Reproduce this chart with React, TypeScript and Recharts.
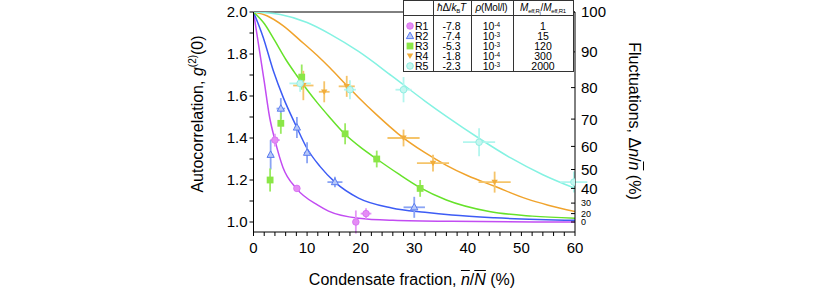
import React from "react";
import {
  ComposedChart,
  Line,
  Scatter,
  ErrorBar,
  XAxis,
  YAxis,
  ReferenceLine,
  Legend,
} from "recharts";

// series labels / table columns
const seriesNames = ["R1", "R2", "R3", "R4", "R5"];
const detuning = ["-7.8", "-7.4", "-5.3", "-1.8", "-2.3"];
const densityExp = ["-4", "-3", "-3", "-4", "-3"];
const massRatio = ["1", "15", "120", "300", "2000"];

const lineColors = ["#c24cf2", "#3d5cf5", "#66e22a", "#f0a32c", "#84f2e2"];
const errColors = ["#e596f6", "#8aa4f4", "#9aea60", "#f5c46a", "#b2f6ee"];

// theory curves
const curveX1 = [0, 1, 2, 3, 4, 5.5, 8, 12, 14, 19.6, 26, 37, 60];
const curveY1 = [2.0, 1.835, 1.67, 1.5, 1.39, 1.26, 1.16, 1.08, 1.052, 1.018, 1.008, 1.003, 1.0];
const curveX2 = [0, 1.8, 3.7, 5.6, 8, 10, 12.4, 15.2, 19.6, 25.8, 32, 37, 45, 60];
const curveY2 = [2.0, 1.88, 1.72, 1.59, 1.455, 1.35, 1.265, 1.19, 1.114, 1.067, 1.046, 1.033, 1.02, 1.008];
const curveX3 = [0, 2, 4, 6, 8, 10, 12, 14, 17, 20, 23, 27, 31, 36, 44, 52, 60];
const curveY3 = [2.0, 1.945, 1.862, 1.775, 1.7, 1.63, 1.565, 1.505, 1.42, 1.355, 1.3, 1.23, 1.165, 1.105, 1.05, 1.028, 1.018];
const curveX4 = [0, 2.5, 5.5, 8.7, 11.8, 14.3, 17.1, 19.6, 23, 27, 32, 36, 40, 45, 51, 55, 60];
const curveY4 = [2.0, 1.982, 1.935, 1.865, 1.795, 1.733, 1.658, 1.593, 1.51, 1.42, 1.33, 1.27, 1.22, 1.17, 1.11, 1.08, 1.05];
const curveX5 = [0, 5, 10, 14.3, 19.6, 25.8, 32, 36, 42, 48, 54, 60];
const curveY5 = [2.0, 1.988, 1.95, 1.895, 1.812, 1.696, 1.576, 1.503, 1.4, 1.305, 1.225, 1.16];

// measured points with x / y errors
const ptsX1 = [4.0, 8.1, 19.1, 21.0];
const ptsY1 = [1.39, 1.16, 1.0, 1.04];
const errX1 = [0.9, 0.5, 0.5, 1.0];
const errY1 = [0.03, 0.015, 0.055, 0.025];

const ptsX2 = [3.2, 5.1, 8.1, 10.0, 15.2, 30.0];
const ptsY2 = [1.32, 1.54, 1.45, 1.33, 1.19, 1.07];
const errX2 = [0.5, 0.8, 0.5, 0.6, 1.4, 2.0];
const errY2 = [0.07, 0.05, 0.05, 0.05, 0.025, 0.05];

const ptsX3 = [3.1, 5.1, 9.0, 17.1, 23.0, 31.1];
const ptsY3 = [1.2, 1.47, 1.69, 1.42, 1.3, 1.16];
const errX3 = [0.5, 0.5, 0.5, 0.5, 0.6, 0.5];
const errY3 = [0.055, 0.05, 0.06, 0.05, 0.04, 0.04];

const ptsX4 = [9.3, 13.2, 17.4, 28.0, 33.5, 45.0];
const ptsY4 = [1.65, 1.62, 1.646, 1.4, 1.28, 1.19];
const errX4 = [1.9, 1.0, 1.5, 3.0, 3.0, 3.0];
const errY4 = [0.07, 0.05, 0.05, 0.04, 0.04, 0.05];

const ptsX5 = [8.7, 18.0, 28.0, 42.1, 59.8];
const ptsY5 = [1.66, 1.63, 1.63, 1.38, 1.19];
const errX5 = [2.0, 1.1, 1.5, 3.0, 2.5];
const errY5 = [0.04, 0.045, 0.06, 0.067, 0.05];

// axis ticks
const xTicks = [0, 2, 4, 6, 8, 10, 12, 14, 16, 18, 20, 22, 24, 26, 28, 30, 32, 34, 36, 38, 40, 42, 44, 46, 48, 50, 52, 54, 56, 58, 60];
const yTicks = [1.0, 1.1, 1.2, 1.3, 1.4, 1.5, 1.6, 1.7, 1.8, 1.9, 2.0];
const fluctTicks = [0, 20, 30, 40, 50, 60, 70, 80, 90, 100];

const zip = (xs: number[], ys: number[]) => xs.map((x, i) => ({ x, y: ys[i] }));
const withErr = (xs: number[], ys: number[], ex: number[], ey: number[]) =>
  xs.map((x, i) => ({ x, y: ys[i], ex: ex[i], ey: ey[i] }));

const curves = [
  zip(curveX1, curveY1),
  zip(curveX2, curveY2),
  zip(curveX3, curveY3),
  zip(curveX4, curveY4),
  zip(curveX5, curveY5),
];
const points = [
  withErr(ptsX1, ptsY1, errX1, errY1),
  withErr(ptsX2, ptsY2, errX2, errY2),
  withErr(ptsX3, ptsY3, errX3, errY3),
  withErr(ptsX4, ptsY4, errX4, errY4),
  withErr(ptsX5, ptsY5, errX5, errY5),
];
// g2 = 1 + (dn/n)^2, right axis is placed on the g2 scale
const fluctPos = fluctTicks.map((f) => 1 + (f / 100) * (f / 100));

const shapes = [
  (p: any) => <circle cx={p.cx} cy={p.cy} r={3.3} fill="#e58cf5" stroke="#d46cf0" strokeWidth={0.8} />,
  (p: any) => (
    <polygon
      points={`${p.cx},${p.cy - 3.9} ${p.cx + 3.6},${p.cy + 2.6} ${p.cx - 3.6},${p.cy + 2.6}`}
      fill="#b8c8f8"
      stroke="#5a7cf0"
      strokeWidth={1}
    />
  ),
  (p: any) => <rect x={p.cx - 3.4} y={p.cy - 3.4} width={6.8} height={6.8} fill="#8ae646" />,
  (p: any) => (
    <polygon
      points={`${p.cx - 3.2},${p.cy - 2.4} ${p.cx + 3.2},${p.cy - 2.4} ${p.cx},${p.cy + 3}`}
      fill="#f2ad3a"
    />
  ),
  (p: any) => <circle cx={p.cx} cy={p.cy} r={3.3} fill="#c4f7f0" stroke="#92eee2" strokeWidth={1} />,
];

const font = "'Liberation Sans', Arial, Helvetica, sans-serif";

const RightTick = (props: any) => {
  const { x, y, index } = props;
  const ax = x - 6;
  const f = fluctTicks[index];
  const small = f === 0 || f === 20 || f === 30;
  return (
    <g>
      <line x1={ax - 4} y1={y} x2={ax} y2={y} stroke="#000" strokeWidth={1} />
      <text
        x={x}
        y={y}
        dy="0.36em"
        textAnchor="start"
        fontSize={small ? 9 : 15}
        fontFamily={font}
        fill="#000"
      >
        {f}
      </text>
    </g>
  );
};

const LegendTable = () => {
  const cols = [29.5, 67.5, 109.5];
  const centers = [14.5, 48.5, 88.5, 140];
  const widths = [28, 36, 40, 60];
  const cell = (c: number, top: number, content: React.ReactNode) => (
    <div
      style={{
        position: "absolute",
        left: centers[c] - 1 - widths[c] / 2,
        top,
        width: widths[c],
        height: 10,
        textAlign: "center",
        lineHeight: "10px",
        whiteSpace: "nowrap",
      }}
    >
      {content}
    </div>
  );
  return (
    <div
      style={{
        position: "relative",
        width: 171,
        height: 72,
        border: "1px solid #333",
        boxSizing: "border-box",
        background: "#fff",
        fontFamily: font,
        fontSize: 10.5,
        color: "#000",
      }}
    >
      {cols.map((c) => (
        <div key={c} style={{ position: "absolute", left: c - 1, top: 0, width: 1, height: 70, background: "#333" }} />
      ))}
      <div style={{ position: "absolute", left: 0, top: 14, width: 169, height: 1, background: "#333" }} />
      <div style={{ fontSize: 10, letterSpacing: -0.2 }}>
        {cell(1, 2, (
          <span>
            <i>ħ</i>Δ/<i>k</i>
            <sub style={{ fontSize: 6, verticalAlign: "-2px" }}>B</sub>
            <i>T</i>
          </span>
        ))}
        {cell(2, 2, (
          <span>
            <i>ρ</i>(Mol/l)
          </span>
        ))}
        {cell(3, 2, (
          <span>
            <i>M</i>
            <sub style={{ fontSize: 6, verticalAlign: "-2px" }}>
              eff,R<sub style={{ fontSize: 4.5 }}>i</sub>
            </sub>
            /<i>M</i>
            <sub style={{ fontSize: 6, verticalAlign: "-2px" }}>eff,R1</sub>
          </span>
        ))}
      </div>
      {seriesNames.map((n, i) => {
        const top = 20 + i * 10;
        return (
          <React.Fragment key={n}>
            <svg style={{ position: "absolute", left: 1, top: top, width: 10, height: 10 }}>
              {shapes[i]({ cx: 5, cy: 5 })}
            </svg>
            <div style={{ position: "absolute", left: 11, top, height: 10, lineHeight: "10px" }}>{n}</div>
            {cell(1, top, detuning[i])}
            {cell(2, top, (
              <span>
                10<span style={{ fontSize: 6.5, position: "relative", top: -3 }}>{densityExp[i]}</span>
              </span>
            ))}
            {cell(3, top, massRatio[i])}
          </React.Fragment>
        );
      })}
    </div>
  );
};

export default function App() {
  return (
    <div
      style={{
        position: "absolute",
        left: 0,
        top: 0,
        width: 830,
        height: 291,
        background: "#fff",
        fontFamily: font,
      }}
    >
      <ComposedChart
        width={830}
        height={291}
        margin={{ top: 12, right: 205, bottom: 29, left: 203.5 }}
      >
        <XAxis
          type="number"
          dataKey="x"
          domain={[0, 60]}
          ticks={xTicks}
          interval={0}
          allowDataOverflow
          height={30}
          tickSize={4}
          tickMargin={6}
          stroke="#000"
          tick={{ fill: "#000", fontSize: 15, fontFamily: font }}
          tickFormatter={(v: number) => (v % 10 === 0 ? String(v) : "")}
        />
        <YAxis
          type="number"
          dataKey="y"
          domain={[0.9524, 2]}
          ticks={yTicks}
          interval={0}
          allowDataOverflow
          width={50}
          tickSize={4}
          tickMargin={2}
          stroke="#000"
          tick={{ fill: "#000", fontSize: 15, fontFamily: font }}
          tickFormatter={(v: number) => (Math.round(v * 10) % 2 === 0 ? v.toFixed(1) : "")}
        />
        <YAxis
          yAxisId="right"
          orientation="right"
          type="number"
          dataKey="y"
          domain={[0.9524, 2]}
          ticks={fluctPos}
          interval={0}
          allowDataOverflow
          width={50}
          tickSize={4}
          tickMargin={2}
          tickLine={false}
          stroke="#000"
          tick={<RightTick />}
        />
        <ReferenceLine y={2} stroke="#000" strokeWidth={1} />
        {curves.map((c, i) => (
          <Line
            key={"c" + i}
            data={c}
            dataKey="y"
            type="monotone"
            stroke={lineColors[i]}
            strokeWidth={1.5}
            dot={false}
            activeDot={false}
            isAnimationActive={false}
          />
        ))}
        {points.map((p, i) => (
          <Scatter
            key={"p" + i}
            name={seriesNames[i]}
            data={p}
            dataKey="y"
            shape={shapes[i]}
            isAnimationActive={false}
          >
            <ErrorBar dataKey="ex" direction="x" width={0} stroke={errColors[i]} strokeWidth={1.8} />
            <ErrorBar dataKey="ey" direction="y" width={0} stroke={errColors[i]} strokeWidth={1.8} />
          </Scatter>
        ))}
        <Legend
          layout="vertical"
          verticalAlign="middle"
          align="center"
          wrapperStyle={{ top: 0, left: 403, width: 171, height: 72 }}
          content={() => <LegendTable />}
        />
      </ComposedChart>

      <div
        style={{
          position: "absolute",
          left: 197,
          top: 114,
          transform: "translate(-50%, -50%) rotate(-90deg)",
          whiteSpace: "nowrap",
          fontSize: 16,
          color: "#000",
        }}
      >
        Autocorrelation, <i>g</i>
        <sup style={{ fontSize: 10 }}>(2)</sup>(0)
      </div>
      <div
        style={{
          position: "absolute",
          left: 634,
          top: 121,
          transform: "translate(-50%, -50%) rotate(90deg)",
          whiteSpace: "nowrap",
          fontSize: 16,
          color: "#000",
        }}
      >
        Fluctuations, Δ<i>n</i>/<i style={{ textDecoration: "overline" }}>n</i> (%)
      </div>
      <div
        style={{
          position: "absolute",
          left: 412,
          top: 280,
          transform: "translate(-50%, -50%)",
          whiteSpace: "nowrap",
          fontSize: 16,
          color: "#000",
        }}
      >
        Condensate fraction, <i style={{ textDecoration: "overline" }}>n</i>/
        <i style={{ textDecoration: "overline" }}>N</i> (%)
      </div>
    </div>
  );
}
